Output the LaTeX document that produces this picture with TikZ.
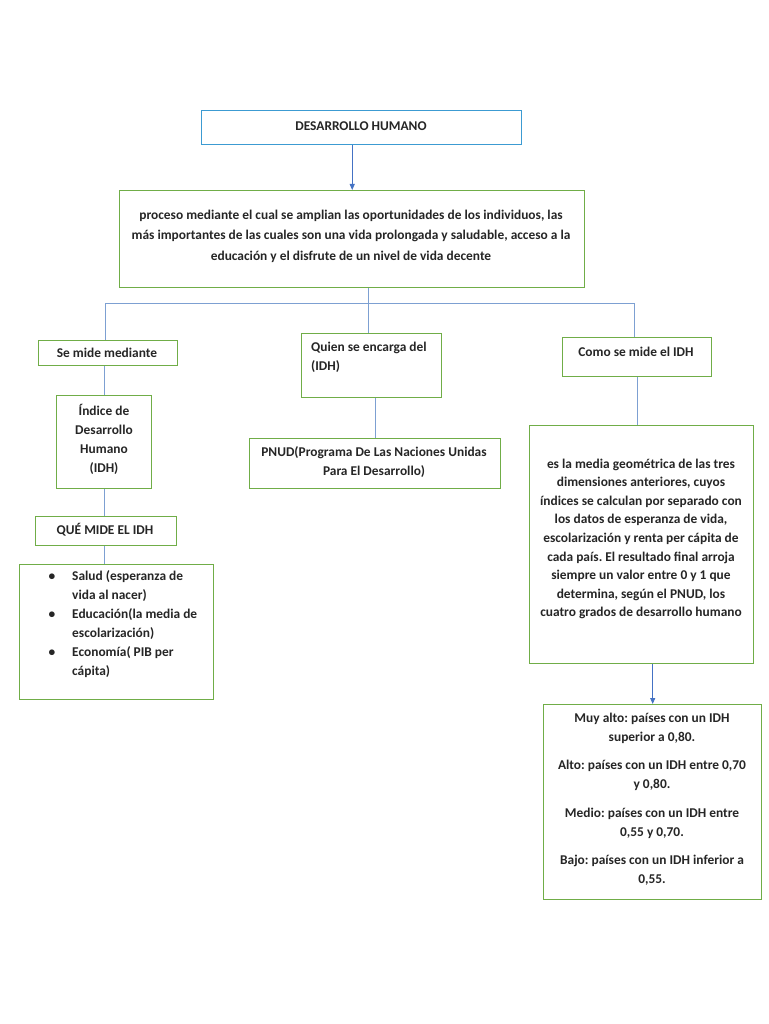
\documentclass[tikz,border=0pt]{standalone}
\usepackage{fontspec}
\setmainfont{Carlito}
\frenchspacing
\usetikzlibrary{arrows.meta}
\definecolor{gbox}{RGB}{112,173,71}
\definecolor{bbox}{RGB}{60,155,210}
\definecolor{conn}{RGB}{125,160,210}
\definecolor{arr}{RGB}{68,114,196}
\begin{document}
\begin{tikzpicture}[x=1pt,y=-1pt,
  box/.style={draw=gbox, line width=1.4pt, inner sep=0pt, anchor=north west},
  txt/.style={font=\bfseries\fontsize{13.4}{19}\selectfont\frenchspacing, align=center, inner sep=0pt, text=black!85},
  conn/.style={draw=conn, line width=0.9pt},
  arrowc/.style={draw=arr, line width=0.9pt, -{Triangle[length=6pt,width=5pt]}}]
\useasboundingbox[fill=white] (0,0) rectangle (768,1024);

% boxes
\node[box, draw=bbox, minimum width=320pt, minimum height=34pt] (top) at (201,110) {};
\node[box, minimum width=465pt, minimum height=97pt] (big) at (119,190) {};
\node[box, minimum width=139pt, minimum height=25pt] (se) at (38,340) {};
\node[box, minimum width=140pt, minimum height=64pt] (quien) at (301,333) {};
\node[box, minimum width=149pt, minimum height=39pt] (como) at (562,337) {};
\node[box, minimum width=95pt, minimum height=93pt] (indice) at (56,395) {};
\node[box, minimum width=141pt, minimum height=29pt] (que) at (35,516) {};
\node[box, minimum width=194pt, minimum height=135pt] (lista) at (19,564) {};
\node[box, minimum width=251pt, minimum height=50pt] (pnud) at (249,438) {};
\node[box, minimum width=224pt, minimum height=238pt] (desc) at (529,425) {};
\node[box, minimum width=218pt, minimum height=195pt] (niveles) at (543,704) {};

% texts
\node[txt] (ttop) at (361,126) {DESARROLLO HUMANO};
\node[txt, font=\bfseries\fontsize{13.4}{20.5}\selectfont\frenchspacing] (tbig) at (351,236) {proceso mediante el cual se amplian las oportunidades de los individuos, las\\m\'as importantes de las cuales son una vida prolongada y saludable, acceso a la\\educaci\'on y el disfrute de un nivel de vida decente};
\node[txt] (tse) at (107,353) {Se mide mediante};
\node[txt, align=left, anchor=north west] (tquien) at (311,342) {Quien se encarga del\\(IDH)};
\node[txt] (tcomo) at (636,352) {Como se mide el IDH};
\node[txt] (tindice) at (104,439) {\'Indice de\\Desarrollo\\Humano\\(IDH)};
\node[txt] (tque) at (105,530) {QU\'E MIDE EL IDH};
\node[txt, align=left, anchor=north west] (tlista) at (72,570) {\llap{\textbullet\hspace{17pt}}Salud (esperanza de\\vida al nacer)\\\llap{\textbullet\hspace{17pt}}Educaci\'on(la media de\\escolarizaci\'on)\\\llap{\textbullet\hspace{17pt}}Econom\'ia( PIB per\\c\'apita)};
\node[txt] (tpnud) at (374,462) {PNUD(Programa De Las Naciones Unidas\\Para El Desarrollo)};
\node[txt, font=\bfseries\fontsize{13.4}{18.6}\selectfont\frenchspacing] (tdesc) at (641,539) {es la media geom\'etrica de las tres\\dimensiones anteriores, cuyos\\\'indices se calculan por separado con\\los datos de esperanza de vida,\\escolarizaci\'on y renta per c\'apita de\\cada pa\'is. El resultado final arroja\\siempre un valor entre 0 y 1 que\\determina, seg\'un el PNUD, los\\cuatro grados de desarrollo humano};
\node[txt] (tniveles) at (652,799) {Muy alto: pa\'ises con un IDH\\superior a 0,80.\\[9.5pt]Alto: pa\'ises con un IDH entre 0,70\\y 0,80.\\[9.5pt]Medio: pa\'ises con un IDH entre\\0,55 y 0,70.\\[9.5pt]Bajo: pa\'ises con un IDH inferior a\\0,55.};

% connectors
\draw[arrowc] (top.south -| big.north) -- (big.north);
\coordinate (bus) at (368,303);
\coordinate (bl) at (105,303);
\coordinate (br) at (634,303);
\draw[conn] (bl) -- (br);
\draw[conn] (big.south -| bus) -- (bus |- quien.north);
\draw[conn] (bl) -- (bl |- se.north);
\draw[conn] (br) -- (br |- como.north);
\draw[conn] (indice.north |- se.south) -- (indice.north);
\draw[conn] (indice.south) -- (indice.south |- que.north);
\draw[conn] (indice.south |- que.south) -- (indice.south |- lista.north);
\draw[conn] (pnud.north |- quien.south) -- (pnud.north);
\draw[conn] (como.south) -- (como.south |- desc.north);
\draw[arrowc] (niveles.north |- desc.south) -- (niveles.north);
\end{tikzpicture}
\end{document}
